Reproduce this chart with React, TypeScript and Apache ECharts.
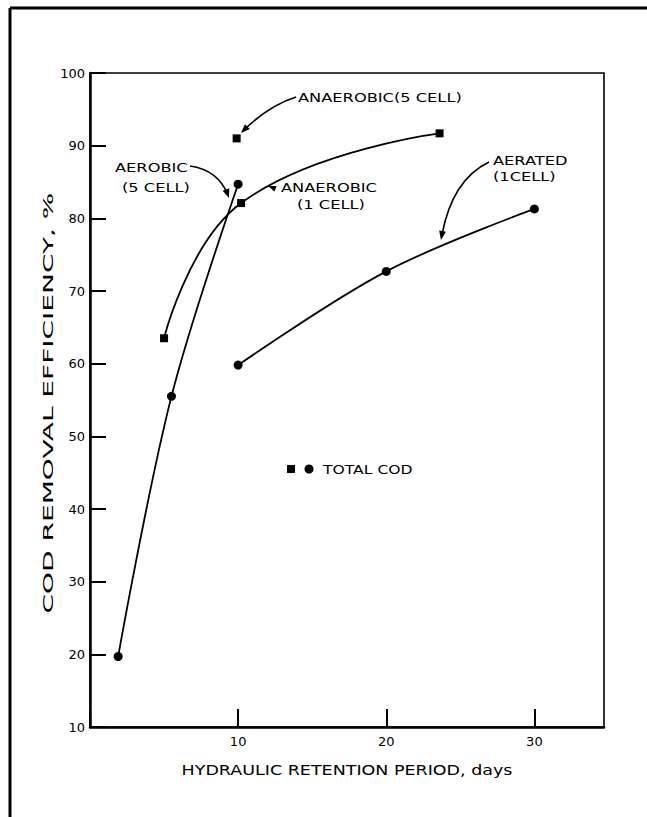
import React, { useEffect, useRef } from 'react';
import * as echarts from 'echarts';

// ---- data ----
const yTicks = [10, 20, 30, 40, 50, 60, 70, 80, 90, 100];
const xTicks = [10, 20, 30];

const aerobic5X = [1.9, 5.5, 10.0];
const aerobic5Y = [19.7, 55.5, 84.7];

const anaerobic1X = [5.0, 10.2, 23.6];
const anaerobic1Y = [63.5, 82.1, 91.7];

const anaerobic5X = [9.9];
const anaerobic5Y = [91.0];

const aerated1X = [10.0, 20.0, 30.0];
const aerated1Y = [59.8, 72.7, 81.3];

const FONT = 'DejaVu Sans';
const INK = '#000';

const pairs = (xs: number[], ys: number[]) => xs.map((x, i) => [x, ys[i]]);

function txt(text: string, x: number, y: number, sx = 1.25, size = 13, extra: any = {}) {
  return {
    type: 'text',
    x,
    y,
    scaleX: sx,
    rotation: extra.rotation || 0,
    style: {
      text,
      fill: INK,
      fontFamily: FONT,
      fontSize: size,
      fontWeight: extra.weight || 'normal',
      align: extra.align || 'left',
      verticalAlign: 'middle',
    },
  };
}

function arrowHead(tipX: number, tipY: number, angleDeg: number, len = 9, half = 3.5) {
  const a = (angleDeg * Math.PI) / 180;
  const bx = tipX - Math.cos(a) * len;
  const by = tipY - Math.sin(a) * len;
  const px = -Math.sin(a) * half;
  const py = Math.cos(a) * half;
  return {
    type: 'polygon',
    shape: { points: [[tipX, tipY], [bx + px, by + py], [bx - px, by - py]] },
    style: { fill: INK },
  };
}

function curve(x1: number, y1: number, cx: number, cy: number, x2: number, y2: number) {
  return {
    type: 'bezierCurve',
    shape: { x1, y1, x2, y2, cpx1: cx, cpy1: cy },
    style: { stroke: INK, lineWidth: 1.6, fill: 'none' },
  };
}

export default function App() {
  const ref = useRef<HTMLDivElement>(null);
  useEffect(() => {
    document.body.style.margin = '0';
    const chart = echarts.init(ref.current!, null, { renderer: 'svg' });
    const lineStyle = { color: INK, width: 1.8 };
    const option: any = {
      animation: false,
      backgroundColor: '#fff',
      grid: {
        left: 90,
        top: 73,
        width: 514,
        height: 654,
        show: true,
        borderColor: INK,
        borderWidth: 1.6,
        containLabel: false,
      },
      xAxis: {
        type: 'value',
        min: 0,
        max: 34.7,
        interval: 10,
        axisLine: { show: true, onZero: false, lineStyle: { color: INK, width: 2.5 } },
        axisTick: { show: true, inside: true, length: 18, lineStyle: { color: INK, width: 2 } },
        axisLabel: {
          color: INK,
          fontFamily: FONT,
          fontSize: 13,
          margin: 8,
          showMaxLabel: false,
          formatter: (v: number) => (xTicks.indexOf(v) >= 0 ? String(v) : ''),
        },
        splitLine: { show: false },
      },
      yAxis: {
        type: 'value',
        min: 10,
        max: 100,
        interval: 10,
        axisLine: { show: true, onZero: false, lineStyle: { color: INK, width: 2.5 } },
        axisTick: { show: true, inside: true, length: 16, lineStyle: { color: INK, width: 2 } },
        axisLabel: {
          color: INK,
          fontFamily: FONT,
          fontSize: 13,
          margin: 5,
          formatter: (v: number) => (yTicks.indexOf(v) >= 0 ? String(v) : ''),
        },
        splitLine: { show: false },
      },
      series: [
        {
          name: 'AEROBIC (5 CELL)',
          type: 'line',
          smooth: 0.35,
          data: pairs(aerobic5X, aerobic5Y),
          symbol: 'circle',
          symbolSize: 9,
          itemStyle: { color: INK },
          lineStyle,
        },
        {
          name: 'ANAEROBIC (1 CELL)',
          type: 'line',
          smooth: 0.45,
          data: pairs(anaerobic1X, anaerobic1Y),
          symbol: 'rect',
          symbolSize: 8,
          itemStyle: { color: INK },
          lineStyle,
        },
        {
          name: 'ANAEROBIC (5 CELL)',
          type: 'scatter',
          data: pairs(anaerobic5X, anaerobic5Y),
          symbol: 'rect',
          symbolSize: 8,
          itemStyle: { color: INK, opacity: 1 },
        },
        {
          name: 'AERATED (1 CELL)',
          type: 'line',
          smooth: 0.35,
          data: pairs(aerated1X, aerated1Y),
          symbol: 'circle',
          symbolSize: 9,
          itemStyle: { color: INK },
          lineStyle,
        },
      ],
      graphic: [
        // page frame
        { type: 'line', shape: { x1: 10, y1: 8, x2: 647, y2: 8 }, style: { stroke: INK, lineWidth: 3 } },
        { type: 'line', shape: { x1: 10, y1: 8, x2: 10, y2: 817 }, style: { stroke: INK, lineWidth: 3 } },
        // axis titles
        txt('COD REMOVAL EFFICIENCY, %', 48, 403, 2.0, 14, { rotation: Math.PI / 2, align: 'center' }),
        txt('HYDRAULIC RETENTION PERIOD, days', 347, 770, 1.25, 14, { align: 'center' }),
        // annotations
        txt('ANAEROBIC(5 CELL)', 298, 97),
        curve(296, 97, 268, 106, 243, 131),
        arrowHead(241, 133, 135),
        txt('AEROBIC', 115, 167),
        txt('(5 CELL)', 122, 187),
        curve(190, 166, 218, 170, 228, 195),
        arrowHead(229, 198, 70),
        txt('ANAEROBIC', 281, 187),
        txt('(1 CELL)', 297, 204),
        arrowHead(268, 186, 200, 8, 3),
        txt('AERATED', 493, 160),
        txt('(1CELL)', 493, 176),
        curve(489, 162, 452, 180, 442, 235),
        arrowHead(441, 240, 100),
        // legend
        { type: 'rect', shape: { x: 287, y: 465, width: 8, height: 8 }, style: { fill: INK } },
        { type: 'circle', shape: { cx: 309, cy: 469, r: 4.5 }, style: { fill: INK } },
        txt('TOTAL COD', 323, 469, 1.2),
      ],
    };
    chart.setOption(option);
    return () => chart.dispose();
  }, []);
  return <div ref={ref} style={{ width: 647, height: 817, background: '#fff' }} />;
}
